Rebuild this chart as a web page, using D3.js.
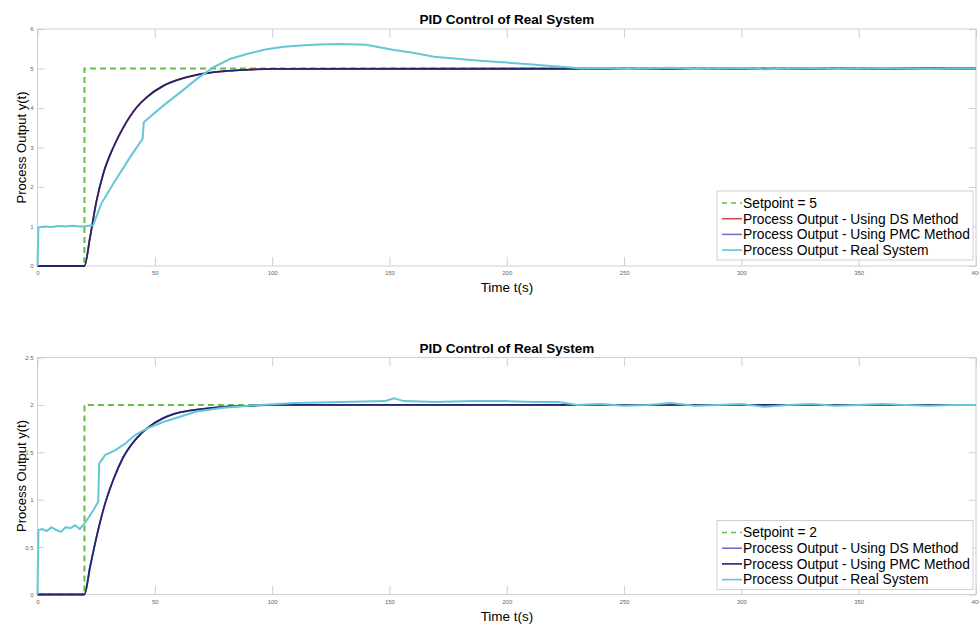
<!DOCTYPE html>
<html>
<head>
<meta charset="utf-8">
<script src="https://cdn.jsdelivr.net/npm/d3@7"></script>
<style>
  body { margin: 0; background: #fff; }
  svg { display: block; font-family: "Liberation Sans", Arial, sans-serif; }
</style>
</head>
<body>
<script>
// ---- data ----
var xTicks = [0, 50, 100, 150, 200, 250, 300, 350, 400];
var topYTicks = [0, 1, 2, 3, 4, 5, 6];
var bottomYTicks = [0, 0.5, 1, 1.5, 2, 2.5];

// setpoint step (time, value)
var setTime = [0, 20, 20, 400];
var topSetpoint = [0, 0, 5, 5];
var bottomSetpoint = [0, 0, 2, 2];

// simulated model responses (DS and PMC lie on top of each other)
var modelTime = [0, 20, 22.4, 25.2, 28, 32.3, 36.6, 42.3, 46.5, 53.6, 60.7, 67.8, 79.2, 90, 100, 400];
var topDS = [0, 0, 0.73, 1.66, 2.33, 3.0, 3.51, 4.02, 4.27, 4.56, 4.73, 4.84, 4.93, 4.97, 4.99, 5];
var topPMC = [0, 0, 0.73, 1.66, 2.33, 3.0, 3.51, 4.02, 4.27, 4.56, 4.73, 4.84, 4.93, 4.97, 4.99, 5];
var bottomDS = [0, 0, 0.29, 0.61, 0.89, 1.21, 1.45, 1.65, 1.75, 1.86, 1.92, 1.95, 1.98, 1.99, 2.0, 2];
var bottomPMC = [0, 0, 0.29, 0.61, 0.89, 1.21, 1.45, 1.65, 1.75, 1.86, 1.92, 1.95, 1.98, 1.99, 2.0, 2];

// measured output of the real system
var topRealTime = [0, 0.4, 3, 6, 9, 12, 15, 18, 21, 23.7, 27.2, 32.3, 39.4, 44.8, 45.3, 53.6, 60.7, 67.8, 74.9, 82, 90, 97, 105, 112, 120, 129, 140, 152, 160, 169, 180, 190, 200, 211, 220, 226, 232, 240, 250, 260, 270, 280, 290, 300, 310, 320, 330, 340, 350, 360, 370, 380, 390, 400];
var topReal = [0, 0.98, 1.0, 0.99, 1.01, 1.0, 1.02, 1.0, 1.01, 1.03, 1.58, 2.08, 2.75, 3.22, 3.64, 4.06, 4.39, 4.73, 5.03, 5.24, 5.38, 5.48, 5.55, 5.58, 5.61, 5.62, 5.6, 5.47, 5.4, 5.3, 5.24, 5.19, 5.15, 5.1, 5.06, 5.03, 5.0, 5.01, 4.99, 5.0, 5.02, 4.99, 5.0, 5.01, 4.98, 5.0, 5.01, 4.99, 5.0, 5.01, 5.0, 4.99, 5.0, 5.0];
var bottomRealTime = [0, 0.4, 2, 4, 6, 8, 10, 12, 14, 16, 18, 20, 22, 24, 25.9, 26.3, 28.8, 33, 37.3, 41.5, 46.5, 53.6, 60.7, 67.8, 79.2, 95, 110, 130, 148, 152, 156, 170, 185, 200, 212, 222, 230, 240, 250, 260, 270, 280, 290, 300, 310, 320, 330, 340, 350, 360, 370, 380, 390, 400];
var bottomReal = [0, 0.68, 0.69, 0.67, 0.71, 0.68, 0.66, 0.71, 0.7, 0.73, 0.69, 0.75, 0.82, 0.9, 0.98, 1.38, 1.47, 1.52, 1.59, 1.68, 1.75, 1.82, 1.875, 1.93, 1.97, 2.0, 2.02, 2.03, 2.04, 2.07, 2.04, 2.03, 2.04, 2.04, 2.03, 2.03, 2.0, 2.01, 1.99, 2.0, 2.02, 1.99, 2.0, 2.01, 1.98, 2.0, 2.01, 1.99, 2.0, 2.01, 2.0, 1.99, 2.0, 2.0];

var legendLabels = ["Process Output - Using DS Method", "Process Output - Using PMC Method", "Process Output - Real System"];

// ---- canvas ----
var W = 979, H = 624;
var svg = d3.select("body").append("svg")
    .attr("width", W)
    .attr("height", H);

var green = "#62bd47", cyan = "#64c7d6", navy = "#24246e";

function zip(ts, vs) {
    return ts.map(function(t, i) { return {t: t, v: vs[i]}; });
}

function drawPanel(p) {
    var x = d3.scaleLinear().domain([0, 400]).range([37.5, 976]);
    var y = d3.scaleLinear().domain([0, p.yMax]).range([p.bottom, p.top]);
    var g = svg.append("g");

    // box
    g.append("rect")
        .attr("x", x(0)).attr("y", y(p.yMax))
        .attr("width", x(400) - x(0)).attr("height", y(0) - y(p.yMax))
        .attr("fill", "#fff").attr("stroke", "#cfcfcf").attr("stroke-width", 1);

    // ticks inside the box, matlab style
    var xb = g.append("g").attr("transform", "translate(0," + y(0) + ")")
        .call(d3.axisBottom(x).tickValues(xTicks).tickSize(-9).tickPadding(4));
    var xt = g.append("g").attr("transform", "translate(0," + y(p.yMax) + ")")
        .call(d3.axisTop(x).tickValues(xTicks).tickSize(-9).tickFormat(""));
    var yl = g.append("g").attr("transform", "translate(" + x(0) + ",0)")
        .call(d3.axisLeft(y).tickValues(p.yTicks).tickSize(-7).tickPadding(4).tickFormat(d3.format("")));
    var yr = g.append("g").attr("transform", "translate(" + x(400) + ",0)")
        .call(d3.axisRight(y).tickValues(p.yTicks).tickSize(-7).tickFormat(""));
    [xb, xt, yl, yr].forEach(function(a) {
        a.select(".domain").remove();
        a.selectAll(".tick line").attr("stroke", "#cfcfcf");
        a.selectAll(".tick text").attr("fill", "#666").style("font-size", "6px");
    });
    xb.selectAll(".tick text").attr("dy", "0.9em");

    var line = d3.line()
        .x(function(d) { return x(d.t); })
        .y(function(d) { return y(d.v); });
    var smooth = d3.line()
        .x(function(d) { return x(d.t); })
        .y(function(d) { return y(d.v); })
        .curve(d3.curveMonotoneX);

    g.append("path").datum(zip(setTime, p.setpoint))
        .attr("d", line).attr("fill", "none")
        .attr("stroke", green).attr("stroke-width", 2).attr("stroke-dasharray", "6,4");
    g.append("path").datum(zip(modelTime, p.ds))
        .attr("d", smooth).attr("fill", "none")
        .attr("stroke", p.dsColor).attr("stroke-width", 1.8);
    g.append("path").datum(zip(modelTime, p.pmc))
        .attr("d", smooth).attr("fill", "none")
        .attr("stroke", p.pmcColor).attr("stroke-width", 1.8);
    g.append("path").datum(zip(p.realTime, p.real))
        .attr("d", line).attr("fill", "none")
        .attr("stroke", cyan).attr("stroke-width", 2);

    // labels
    g.append("text")
        .attr("x", 507).attr("y", p.top - 5)
        .attr("text-anchor", "middle")
        .style("font-size", "13.5px").style("font-weight", "bold")
        .text("PID Control of Real System");
    g.append("text")
        .attr("x", 507).attr("y", p.bottom + 26)
        .attr("text-anchor", "middle")
        .style("font-size", "13.5px")
        .text("Time t(s)");
    g.append("text")
        .attr("transform", "translate(26," + ((p.top + p.bottom) / 2) + ") rotate(-90)")
        .attr("text-anchor", "middle")
        .style("font-size", "13px")
        .text("Process Output y(t)");

    // legend
    var lg = g.append("g").attr("transform", "translate(717," + p.legendTop + ")");
    lg.append("rect")
        .attr("width", 256).attr("height", 69)
        .attr("fill", "#fff").attr("stroke", "#cfcfcf");
    var entries = [{label: "Setpoint = " + p.setpoint[2], color: green, dash: "5,4"}]
        .concat(legendLabels.map(function(l, i) {
            return {label: l, color: [p.dsLegend, p.pmcLegend, cyan][i], dash: null};
        }));
    entries.forEach(function(e, i) {
        var cy = 12 + i * 15.7;
        lg.append("line")
            .attr("x1", 5).attr("x2", 25).attr("y1", cy).attr("y2", cy)
            .attr("stroke", e.color).attr("stroke-width", 1.6)
            .attr("stroke-dasharray", e.dash);
        lg.append("text")
            .attr("x", 26).attr("y", cy).attr("dy", "0.35em")
            .style("font-size", "13.8px")
            .text(e.label);
    });
}

drawPanel({
    top: 29, bottom: 266, yMax: 6, yTicks: topYTicks,
    setpoint: topSetpoint, ds: topDS, pmc: topPMC,
    realTime: topRealTime, real: topReal,
    dsColor: "#d84a4f", pmcColor: navy,
    dsLegend: "#d84a4f", pmcLegend: "#7474d2",
    legendTop: 191
});
drawPanel({
    top: 357.5, bottom: 594.5, yMax: 2.5, yTicks: bottomYTicks,
    setpoint: bottomSetpoint, ds: bottomDS, pmc: bottomPMC,
    realTime: bottomRealTime, real: bottomReal,
    dsColor: "#6f6fd2", pmcColor: navy,
    dsLegend: "#6f6fd2", pmcLegend: navy,
    legendTop: 520.5
});
</script>
</body>
</html>
